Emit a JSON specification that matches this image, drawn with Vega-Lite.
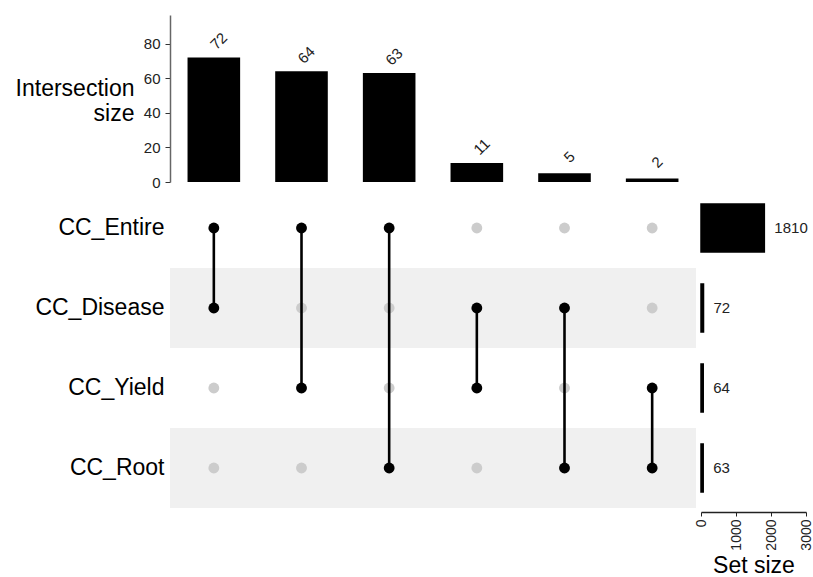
{
  "$schema": "https://vega.github.io/schema/vega-lite/v6.json",
  "padding": {"left": 15, "top": 15, "right": 2, "bottom": 2},
  "config": {
    "view": {"stroke": null},
    "font": "Liberation Sans",
    "axis": {"labelFont": "Liberation Sans", "titleFont": "Liberation Sans", "grid": false}
  },
  "datasets": {
    "intersections": [
      {"id": "i1", "size": 72},
      {"id": "i2", "size": 64},
      {"id": "i3", "size": 63},
      {"id": "i4", "size": 11},
      {"id": "i5", "size": 5},
      {"id": "i6", "size": 2}
    ],
    "cells": [
      {"id": "i1", "set": "CC_Entire", "member": "yes"},
      {"id": "i1", "set": "CC_Disease", "member": "yes"},
      {"id": "i1", "set": "CC_Yield", "member": "no"},
      {"id": "i1", "set": "CC_Root", "member": "no"},
      {"id": "i2", "set": "CC_Entire", "member": "yes"},
      {"id": "i2", "set": "CC_Disease", "member": "no"},
      {"id": "i2", "set": "CC_Yield", "member": "yes"},
      {"id": "i2", "set": "CC_Root", "member": "no"},
      {"id": "i3", "set": "CC_Entire", "member": "yes"},
      {"id": "i3", "set": "CC_Disease", "member": "no"},
      {"id": "i3", "set": "CC_Yield", "member": "no"},
      {"id": "i3", "set": "CC_Root", "member": "yes"},
      {"id": "i4", "set": "CC_Entire", "member": "no"},
      {"id": "i4", "set": "CC_Disease", "member": "yes"},
      {"id": "i4", "set": "CC_Yield", "member": "yes"},
      {"id": "i4", "set": "CC_Root", "member": "no"},
      {"id": "i5", "set": "CC_Entire", "member": "no"},
      {"id": "i5", "set": "CC_Disease", "member": "yes"},
      {"id": "i5", "set": "CC_Yield", "member": "no"},
      {"id": "i5", "set": "CC_Root", "member": "yes"},
      {"id": "i6", "set": "CC_Entire", "member": "no"},
      {"id": "i6", "set": "CC_Disease", "member": "no"},
      {"id": "i6", "set": "CC_Yield", "member": "yes"},
      {"id": "i6", "set": "CC_Root", "member": "yes"}
    ],
    "links": [
      {"id": "i1", "from": "CC_Entire", "to": "CC_Disease"},
      {"id": "i2", "from": "CC_Entire", "to": "CC_Yield"},
      {"id": "i3", "from": "CC_Entire", "to": "CC_Root"},
      {"id": "i4", "from": "CC_Disease", "to": "CC_Yield"},
      {"id": "i5", "from": "CC_Disease", "to": "CC_Root"},
      {"id": "i6", "from": "CC_Yield", "to": "CC_Root"}
    ],
    "sets": [
      {"set": "CC_Entire", "size": 1810, "shaded": "no"},
      {"set": "CC_Disease", "size": 72, "shaded": "yes"},
      {"set": "CC_Yield", "size": 64, "shaded": "no"},
      {"set": "CC_Root", "size": 63, "shaded": "yes"}
    ]
  },
  "columns": 2,
  "align": "each",
  "bounds": "flush",
  "spacing": {"row": 6, "column": 5},
  "concat": [
    {
      "width": 526,
      "height": 167,
      "data": {"name": "intersections"},
      "encoding": {
        "x": {"field": "id", "type": "nominal", "axis": null,
              "scale": {"domain": ["i1","i2","i3","i4","i5","i6"], "paddingInner": 0.4, "paddingOuter": 0.2}},
        "y": {"field": "size", "type": "quantitative",
              "scale": {"domain": [0, 96.5], "nice": false},
              "axis": {"values": [0,20,40,60,80], "title": ["Intersection", "size"],
                       "titleAngle": 0, "titleAlign": "right", "titleBaseline": "alphabetic",
                       "titleX": -36, "titleY": 80,
                       "titleFontSize": 23, "titleFontWeight": "normal", "titleColor": "#000", "titleLineHeight": 25,
                       "labelFontSize": 15, "labelColor": "#222", "labelPadding": 5,
                       "tickSize": 5, "tickColor": "#333", "domainColor": "#666", "domainWidth": 1.5}}
      },
      "layer": [
        {"mark": {"type": "bar", "color": "#000"}},
        {"mark": {"type": "text", "angle": -45, "align": "center", "baseline": "middle", "dx": 15, "dy": -8, "fontSize": 15, "color": "#222"},
         "encoding": {"text": {"field": "size", "type": "quantitative"}}}
      ]
    },
    {
      "width": 105,
      "height": 167,
      "data": {"name": "sets"},
      "mark": {"type": "text", "opacity": 0, "text": ""},
      "encoding": {}
    },
    {
      "width": 526,
      "height": 320,
      "layer": [
        {
          "data": {"name": "sets"},
          "transform": [{"filter": {"field": "shaded", "equal": "yes"}}],
          "mark": {"type": "rect", "color": "#f0f0f0"},
          "encoding": {
            "y": {"field": "set", "type": "nominal",
                  "scale": {"domain": ["CC_Entire","CC_Disease","CC_Yield","CC_Root"], "paddingInner": 0, "paddingOuter": 0},
                  "axis": {"title": null, "labelFontSize": 23, "labelColor": "#000", "ticks": false, "domain": false, "labelPadding": 6}}
          }
        },
        {
          "data": {"name": "cells"},
          "transform": [{"filter": {"field": "member", "equal": "no"}}],
          "mark": {"type": "circle", "size": 118, "opacity": 1, "color": "#cccccc"},
          "encoding": {
            "x": {"field": "id", "type": "nominal", "axis": null,
                  "scale": {"domain": ["i1","i2","i3","i4","i5","i6"], "paddingInner": 0.4, "paddingOuter": 0.2}},
            "y": {"field": "set", "type": "nominal"}
          }
        },
        {
          "data": {"name": "links"},
          "mark": {"type": "rule", "color": "#000", "strokeWidth": 2.6},
          "encoding": {
            "x": {"field": "id", "type": "nominal"},
            "y": {"field": "from", "type": "nominal"},
            "y2": {"field": "to"}
          }
        },
        {
          "data": {"name": "cells"},
          "transform": [{"filter": {"field": "member", "equal": "yes"}}],
          "mark": {"type": "circle", "size": 118, "opacity": 1, "color": "#000"},
          "encoding": {
            "x": {"field": "id", "type": "nominal"},
            "y": {"field": "set", "type": "nominal"}
          }
        }
      ]
    },
    {
      "width": 105,
      "height": 320,
      "data": {"name": "sets"},
      "encoding": {
        "y": {"field": "set", "type": "nominal", "axis": null,
              "scale": {"domain": ["CC_Entire","CC_Disease","CC_Yield","CC_Root"], "paddingInner": 0.4, "paddingOuter": 0.2}},
        "x": {"field": "size", "type": "quantitative",
              "scale": {"domain": [0, 3000], "nice": false},
              "axis": {"values": [0,1000,2000,3000], "format": "d", "title": "Set size", "labelAngle": -90,
                       "titleFontSize": 23, "titleFontWeight": "normal", "titleColor": "#000", "titlePadding": 4,
                       "labelFontSize": 14, "labelColor": "#222", "labelPadding": 3,
                       "tickSize": 4, "tickColor": "#222", "domainColor": "#222", "domainWidth": 1.3, "offset": 4}}
      },
      "layer": [
        {"mark": {"type": "bar", "color": "#000", "stroke": "#000", "strokeWidth": 1.5}},
        {"mark": {"type": "text", "align": "left", "baseline": "middle", "dx": 10, "fontSize": 15, "color": "#222"},
         "encoding": {"text": {"field": "size", "type": "quantitative"}}}
      ]
    }
  ]
}
